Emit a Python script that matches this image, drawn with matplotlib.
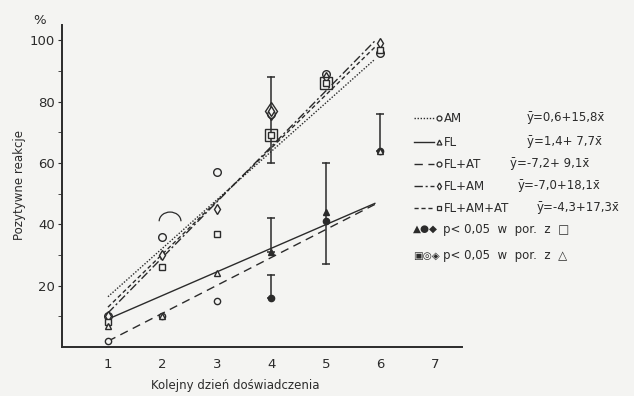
import numpy as np
import matplotlib
matplotlib.use("Agg")
import matplotlib.pyplot as plt
from matplotlib.patches import Arc

# dane
days = [1, 2, 3, 4, 5, 6]
am = [10, 36, 57, 76, 89, 96]
fl = [7, 10, 24, 31, 44, 64]
fl_at = [2, 10, 15, 16, 41, 64]
fl_am = [10, 30, 45, 77, 88, 99]
fl_am_at = [8, 26, 37, 69, 86, 97]

# istotnosc: wypelnione = p<0.05 vs FL+AM+AT, obramowane = p<0.05 vs FL
fl_filled = [False, False, False, True, True, False]
fl_at_filled = [False, False, False, True, True, True]
fl_am_boxed = [False, False, False, True, False, False]
fl_am_at_boxed = [False, False, False, True, True, False]

# proste regresji z legendy
labels = ["AM", "FL", "FL+AT", "FL+AM", "FL+AM+AT"]
intercepts = [0.6, 1.4, -7.2, -7.0, -4.3]
slopes = [15.8, 7.7, 9.1, 18.1, 17.3]
equations = ["ȳ=0,6+15,8x̄", "ȳ=1,4+ 7,7x̄", "ȳ=-7,2+ 9,1x̄",
             "ȳ=-7,0+18,1x̄", "ȳ=-4,3+17,3x̄"]

# odcinki bledow (dzien, od, do)
err_days = [4, 4, 4, 5, 6]
err_lo = [60, 31, 16, 27, 64]
err_hi = [88, 42, 23.5, 60, 76]

ink = "#2b2b2b"
bg = "#f4f4f2"
styles = [(0, (1, 1.2)), "-", (0, (6, 4)), (0, (6, 2, 1.5, 2)), (0, (3, 2))]
markers = ["o", "^", "o", "d", "s"]
msizes = [5.5, 5, 4.5, 5.5, 5]

fig = plt.figure(figsize=(6.34, 3.96), dpi=100, facecolor=bg)
ax = fig.add_axes([62 / 634, 49 / 396, 400 / 634, 322 / 396], facecolor=bg)
ax.set_xlim(0.156, 7.5)
ax.set_ylim(0, 105)

# linie regresji
xs = np.linspace(1, 5.9, 50)
for a, b, ls in zip(intercepts, slopes, styles):
    ax.plot(xs, a + b * xs, color=ink, lw=1.0, ls=ls, zorder=2)

# bledy
for d, lo, hi in zip(err_days, err_lo, err_hi):
    ax.plot([d, d], [lo, hi], color=ink, lw=1.1, marker="_", ms=6, mew=1.1, zorder=3)

def draw_series(vals, marker, ms, filled=None, boxed=None, z=4):
    for i, (d, v) in enumerate(zip(days, vals)):
        fc = ink if (filled and filled[i]) else bg
        ax.plot(d, v, marker=marker, ms=ms, mfc=fc, mec=ink, mew=1.0, ls="none", zorder=z)
        if boxed and boxed[i]:
            ax.plot(d, v, marker=marker, ms=ms + 4, mfc="none", mec=ink, mew=1.0, ls="none", zorder=z)

draw_series(am, markers[0], msizes[0])
draw_series(fl_at, markers[2], msizes[2], filled=fl_at_filled)
draw_series(fl, markers[1], msizes[1], filled=fl_filled, z=5)
draw_series(fl_am, markers[3], msizes[3], boxed=fl_am_boxed)
draw_series(fl_am_at, markers[4], msizes[4], boxed=fl_am_at_boxed)

# luk nad punktem dnia 2
ax.add_patch(Arc((2.14, 41), 0.4, 6, theta1=0, theta2=180, color=ink, lw=0.9))

for s in ["top", "right"]:
    ax.spines[s].set_visible(False)
for s in ["left", "bottom"]:
    ax.spines[s].set_color(ink)
    ax.spines[s].set_linewidth(1.4)
ax.set_xticks(range(1, 8))
ax.set_yticks(range(20, 101, 20))
ax.set_yticks(range(10, 101, 10), minor=True)
ax.tick_params(axis="y", which="both", direction="out", length=3, color=ink, labelsize=9.5,
               labelcolor=ink, pad=2)
ax.tick_params(axis="x", direction="in", length=0, labelsize=9.5, labelcolor=ink, pad=8)

fig.text(20 / 634, 1 - 185 / 396, "Pozytywne reakcje", rotation=90, ha="center",
         va="center", fontsize=8.5, color=ink)
fig.text(235 / 634, 1 - 385 / 396, "Kolejny dzień doświadczenia", ha="center",
         va="center", fontsize=8.5, color=ink)
fig.text(40 / 634, 1 - 21 / 396, "%", ha="center", va="center", fontsize=9.5, color=ink)

# legenda rysowana recznie
lg = fig.add_axes([0, 0, 1, 1], facecolor="none")
lg.set_xlim(0, 634)
lg.set_ylim(396, 0)
lg.axis("off")
rows = [118, 142, 164, 186, 208]
eq_x = [527, 527, 510, 518, 537]
for i in range(5):
    y = rows[i]
    lg.plot([414, 434], [y, y], color=ink, lw=1.0, ls=styles[i])
    lg.plot(439, y, marker=markers[i], ms=3.5, mfc=bg, mec=ink, mew=0.9)
    lg.text(444, y, labels[i], fontsize=8.5, color=ink, va="center", ha="left")
    lg.text(eq_x[i], y, equations[i], fontsize=8.5, color=ink, va="center", ha="left")

lg.text(413, 229, "▲●◆", fontsize=7.5, color=ink, va="center", ha="left")
lg.text(443, 229, "p< 0,05  w  por.  z  □", fontsize=8.5, color=ink, va="center", ha="left")
lg.text(413, 256, "▣◎◈", fontsize=7.5, color=ink, va="center", ha="left")
lg.text(443, 256, "p< 0,05  w  por.  z  △", fontsize=8.5, color=ink, va="center", ha="left")

fig.savefig("out.png", dpi=100, facecolor=bg)
